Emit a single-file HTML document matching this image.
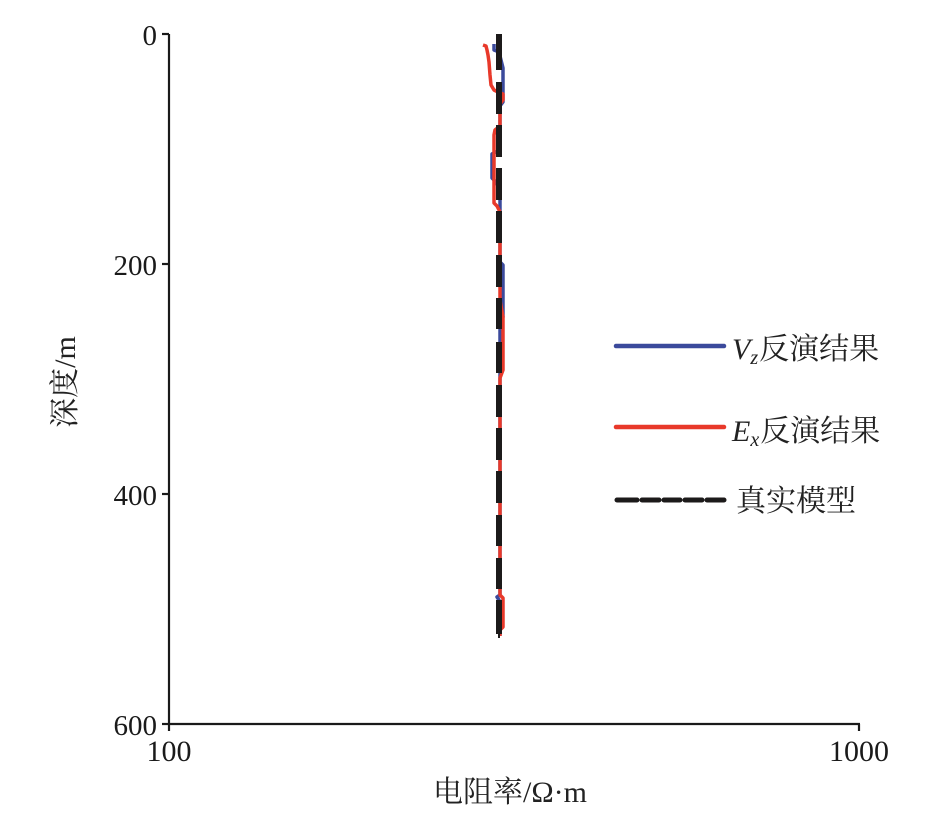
<!DOCTYPE html>
<html>
<head>
<meta charset="utf-8">
<style>
  html, body { margin:0; padding:0; background:#ffffff; }
  body { width:925px; height:829px; overflow:hidden; }
  svg { display:block; }
  .num { font-family:"Liberation Serif", serif; font-size:29px; fill:#1a1a1a; }
  .cjk { font-family:"Liberation Serif", "Noto Serif CJK SC", serif; font-size:30px; fill:#222; }
</style>
</head>
<body>
<svg width="925" height="829" viewBox="0 0 925 829" xmlns="http://www.w3.org/2000/svg">
  <rect width="925" height="829" fill="#ffffff"/>

  <!-- axes -->
  <g stroke="#1a1a1a" stroke-width="2.2" fill="none">
    <line x1="169" y1="34" x2="169" y2="725"/>
    <line x1="168" y1="724" x2="860" y2="724"/>
    <!-- y ticks -->
    <line x1="162" y1="34" x2="169" y2="34"/>
    <line x1="162" y1="264" x2="169" y2="264"/>
    <line x1="162" y1="494" x2="169" y2="494"/>
    <line x1="162" y1="724" x2="169" y2="724"/>
    <!-- x ticks -->
    <line x1="169" y1="724" x2="169" y2="731"/>
    <line x1="859" y1="724" x2="859" y2="731"/>
  </g>

  <!-- y tick labels -->
  <text class="num" x="157" y="45" text-anchor="end">0</text>
  <text class="num" x="157" y="275" text-anchor="end">200</text>
  <text class="num" x="157" y="505" text-anchor="end">400</text>
  <text class="num" x="157" y="735" text-anchor="end">600</text>

  <!-- x tick labels -->
  <text class="num" x="169" y="761" text-anchor="middle" style="font-size:30px">100</text>
  <text class="num" x="859" y="761" text-anchor="middle" style="font-size:30px">1000</text>

  <!-- axis titles -->
  <text class="cjk" x="510" y="802" text-anchor="middle">电阻率/Ω·m</text>
  <text class="cjk" transform="translate(75,382) rotate(-90)" text-anchor="middle">深度/m</text>

  <!-- Vz series -->
  <path d="M494,44 L494,50 L499,52 L503,68 L503,102 L500,106 L500,150 L492,154 L492,178 L496,182 L500,190 L500,262 L503,265 L503,317 L500,320 L500,595 L497,597 L499,600 L500,636"
        fill="none" stroke="#3b4a9c" stroke-width="3.5" stroke-linejoin="round"/>
  <!-- Ex series -->
  <path d="M483,45 L486,46 L487,50 L488,55 L489,62 L490,75 L491,85 L494,90 L498,92 L503,94 L503,100 L500,104 L500,126 L495,130 L494,135 L494,203 L497,206 L500,212 L500,300 L503,317 L503,370 L500,378 L500,595 L503,598 L503,627 L500,630 L500,636"
        fill="none" stroke="#e8392a" stroke-width="3.5" stroke-linejoin="round"/>

  <!-- true model (dashed black) -->
  <g stroke="#1c1a1a" stroke-width="6" stroke-linecap="butt">
    <line x1="499" y1="34" x2="499" y2="70"/>
    <line x1="499" y1="82" x2="499" y2="114"/>
    <line x1="499" y1="125" x2="499" y2="157"/>
    <line x1="499" y1="168" x2="499" y2="200"/>
    <line x1="499" y1="211" x2="499" y2="243"/>
    <line x1="499" y1="255" x2="499" y2="287"/>
    <line x1="499" y1="298" x2="499" y2="329"/>
    <line x1="499" y1="342" x2="499" y2="373"/>
    <line x1="499" y1="385" x2="499" y2="417"/>
    <line x1="499" y1="428" x2="499" y2="460"/>
    <line x1="499" y1="471" x2="499" y2="503"/>
    <line x1="499" y1="515" x2="499" y2="546"/>
    <line x1="499" y1="558" x2="499" y2="589"/>
    <line x1="499" y1="600" x2="499" y2="634"/>
  </g>
  <line x1="499" y1="634" x2="499" y2="638" stroke="#1c1a1a" stroke-width="2"/>

  <!-- legend -->
  <line x1="616" y1="346" x2="724" y2="346" stroke="#3b4a9c" stroke-width="4.5" stroke-linecap="round"/>
  <text class="cjk" x="732" y="359"><tspan font-style="italic" font-family="Liberation Serif, serif">V</tspan><tspan font-style="italic" font-family="Liberation Serif, serif" font-size="20" dy="5">z</tspan><tspan dy="-5" dx="1">反演结果</tspan></text>

  <line x1="616" y1="427" x2="724" y2="427" stroke="#e8392a" stroke-width="4.5" stroke-linecap="round"/>
  <text class="cjk" x="732" y="441"><tspan font-style="italic" font-family="Liberation Serif, serif">E</tspan><tspan font-style="italic" font-family="Liberation Serif, serif" font-size="20" dy="5">x</tspan><tspan dy="-5" dx="1">反演结果</tspan></text>

  <g stroke="#1c1a1a" stroke-width="5" stroke-linecap="round">
    <line x1="617" y1="500" x2="637" y2="500"/>
    <line x1="642" y1="500" x2="659" y2="500"/>
    <line x1="664" y1="500" x2="680" y2="500"/>
    <line x1="685" y1="500" x2="702" y2="500"/>
    <line x1="707" y1="500" x2="724" y2="500"/>
  </g>
  <text class="cjk" x="736" y="511">真实模型</text>
</svg>
</body>
</html>
